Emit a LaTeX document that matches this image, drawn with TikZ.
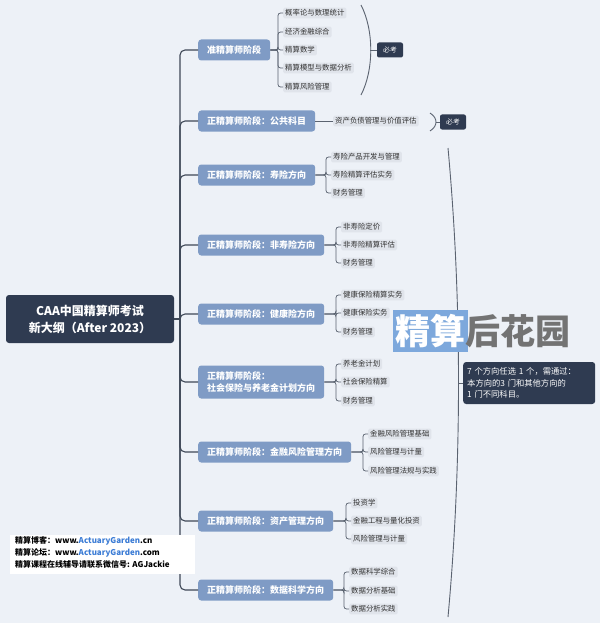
\documentclass[tikz,border=0pt]{standalone}
\usepackage{fontspec}
\setmainfont{Noto Sans CJK SC}
\definecolor{bgcol}{HTML}{EDF1F7}
\definecolor{navy}{HTML}{2F3B51}
\definecolor{branchcol}{HTML}{7F9BC5}
\definecolor{leafcol}{HTML}{E0E4EB}
\definecolor{linecol}{HTML}{3E4857}
\definecolor{agblue}{HTML}{3A7BD5}
\definecolor{wmblue}{HTML}{7DA8DC}
\begin{document}
\begin{tikzpicture}[x=1pt, y=-1pt,
        rootbox/.style={fill=navy, text=white, rounded corners=3pt, align=center,
            font=\bfseries\fontsize{12}{17}\selectfont, minimum width=168, minimum height=48},
        branch/.style={fill=branchcol, text=white, rounded corners=3pt, anchor=west, align=left,
            font=\bfseries\fontsize{9}{12}\selectfont, inner xsep=9pt, minimum height=21},
        leaf/.style={fill=leafcol, text=black!80, rounded corners=1.5pt, anchor=west,
            font=\fontsize{7.4}{8}\selectfont, inner sep=2pt},
        mustbox/.style={fill=navy, text=white, rounded corners=2pt,
            font=\fontsize{6.8}{8}\selectfont, minimum width=26, minimum height=15},
        conn/.style={draw=linecol, line width=1.1pt, rounded corners=5pt},
        leafline/.style={draw=linecol!85, line width=0.75pt, rounded corners=2.5pt}]
        \fill [color=bgcol] (0, 0) rectangle (600, 623);
        \useasboundingbox (0, 0) rectangle (600, 623);

        \node[rootbox] (root) at (90, 319) {CAA中国精算师考试\\新大纲（After 2023）};

        \node[branch] (b1) at (198, 50) {准精算师阶段};
        \node[branch] (b2) at (198, 121) {正精算师阶段：公共科目};
        \node[branch] (b3) at (198, 175) {正精算师阶段：寿险方向};
        \node[branch] (b4) at (198, 245) {正精算师阶段：非寿险方向};
        \node[branch] (b5) at (198, 314) {正精算师阶段：健康险方向};
        \node[branch, minimum height=33] (b6) at (198, 382) {正精算师阶段：\\社会保险与养老金计划方向};
        \node[branch] (b7) at (198, 452) {正精算师阶段：金融风险管理方向};
        \node[branch] (b8) at (198, 521) {正精算师阶段：资产管理方向};
        \node[branch] (b9) at (198, 590) {正精算师阶段：数据科学方向};

        \coordinate (spine) at (180, 319);
        \draw[conn] (root.east) -- (spine);
        \foreach \b in {1,...,9}
            {\draw[conn] (spine) |- (b\b.west);}

        \foreach \i/\y/\t in {1/13/概率论与数理统计,2/32/经济金融综合,3/50/精算数学,4/68/精算模型与数据分析,5/87/精算风险管理}
            {\node[leaf] (b1c\i) at (283, \y) {\t};
             \draw[leafline] (b1.east) -- (278, 50) |- (b1c\i.west);}
        \node[leaf] (b2c1) at (333, 121) {资产负债管理与价值评估};
        \draw[leafline] (b2.east) -- (b2c1.west);
        \foreach \i/\y/\t in {1/157/寿险产品开发与管理,2/175/寿险精算评估实务,3/193/财务管理}
            {\node[leaf] (b3c\i) at (331, \y) {\t};
             \draw[leafline] (b3.east) -- (326, 175) |- (b3c\i.west);}
        \foreach \i/\y/\t in {1/227/非寿险定价,2/245/非寿险精算评估,3/263/财务管理}
            {\node[leaf] (b4c\i) at (341, \y) {\t};
             \draw[leafline] (b4.east) -- (336, 245) |- (b4c\i.west);}
        \foreach \i/\y/\t in {1/295/健康保险精算实务,2/313/健康保险实务,3/332/财务管理}
            {\node[leaf] (b5c\i) at (341, \y) {\t};
             \draw[leafline] (b5.east) -- (336, 314) |- (b5c\i.west);}
        \foreach \i/\y/\t in {1/364/养老金计划,2/382/社会保险精算,3/401/财务管理}
            {\node[leaf] (b6c\i) at (341, \y) {\t};
             \draw[leafline] (b6.east) -- (336, 382) |- (b6c\i.west);}
        \foreach \i/\y/\t in {1/434/金融风险管理基础,2/452/风险管理与计量,3/471/风险管理法规与实践}
            {\node[leaf] (b7c\i) at (368, \y) {\t};
             \draw[leafline] (b7.east) -- (363, 452) |- (b7c\i.west);}
        \foreach \i/\y/\t in {1/503/投资学,2/521/金融工程与量化投资,3/539/风险管理与计量}
            {\node[leaf] (b8c\i) at (351, \y) {\t};
             \draw[leafline] (b8.east) -- (346, 521) |- (b8c\i.west);}
        \foreach \i/\y/\t in {1/572/数据科学综合,2/591/数据分析基础,3/609/数据分析实践}
            {\node[leaf] (b9c\i) at (349, \y) {\t};
             \draw[leafline] (b9.east) -- (344, 590) |- (b9c\i.west);}

        \node[mustbox] (must1) at (390, 50) {必考};
        \node[mustbox] (must2) at (453, 122) {必考};
        \node[fill=navy, text=white, rounded corners=3pt, anchor=west, align=left,
            font=\fontsize{8.3}{11.5}\selectfont, inner xsep=4pt, minimum height=42, text width=124]
            (note) at (463, 383) {7 个方向任选 1 个，需通过：\\本方向的3 门和其他方向的\\1 门不同科目。};

        \coordinate (p1) at (370, 50);
        \coordinate (p2) at (436, 122);
        \coordinate (p3) at (458, 383);
        \draw[leafline, line width=0.9pt] (361, 5) .. controls (374, 30) and (374, 70) .. (361, 95);
        \draw[leafline] (p1) -- (must1.west);
        \draw[leafline, line width=0.9pt] (430, 113) .. controls (438, 118) and (438, 126) .. (430, 131);
        \draw[leafline] (p2) -- (must2.west);
        \draw[leafline, line width=0.9pt] (448, 148) .. controls (462, 300) and (462, 465) .. (448, 617);
        \draw[leafline] (p3) -- (note.west);

        \fill [color=wmblue] (393, 310) rectangle (468, 352);
        \node[anchor=west, inner sep=0pt, font=\bfseries\fontsize{35}{35}\selectfont] (wm) at (395, 331)
            {\textcolor{white}{精算}\textcolor{black!55}{后花园}};

        \fill [color=white] (10, 535) rectangle (195, 574);
        \node[anchor=north west, align=left, inner sep=0pt, font=\bfseries\fontsize{8}{12.3}\selectfont] (credit) at (15, 536)
            {精算博客：www.\textcolor{agblue}{ActuaryGarden}.cn\\
             精算论坛：www.\textcolor{agblue}{ActuaryGarden}.com\\
             精算课程在线辅导请联系微信号: AGJackie};
    \end{tikzpicture}
\end{document}
